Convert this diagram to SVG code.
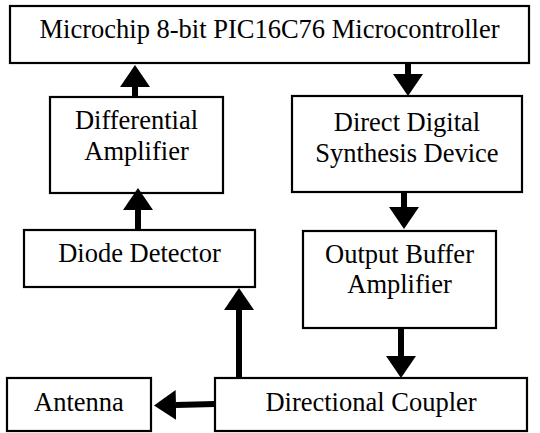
<svg xmlns="http://www.w3.org/2000/svg" width="540" height="433" viewBox="0 0 540 433">
<style>
.box{fill:#fff;stroke:#000;stroke-width:2.2}
.t{font-family:"Liberation Serif","Times New Roman",serif;font-size:26.5px;fill:#000;text-anchor:middle}
.c{stroke:#000;stroke-width:6;fill:none}
</style>
<defs>
<marker id="ah" viewBox="0 0 22 30" refX="0" refY="15" markerWidth="22" markerHeight="30" markerUnits="userSpaceOnUse" orient="auto">
<path d="M0,0 L22,15 L0,30 z" fill="#000"/>
</marker>
</defs>
<rect width="540" height="433" fill="#fff"/>
<g id="mcu"><rect class="box" x="10" y="6" width="519" height="57"/><text class="t" x="269.5" y="38">Microchip 8-bit PIC16C76 Microcontroller</text></g>
<g id="diffamp"><rect class="box" x="50" y="97" width="173" height="96"/><text class="t" x="136.5" y="129">Differential</text><text class="t" x="136.5" y="160">Amplifier</text></g>
<g id="dds"><rect class="box" x="292" y="96" width="230" height="96"/><text class="t" x="407" y="131">Direct Digital</text><text class="t" x="407" y="162">Synthesis Device</text></g>
<g id="diode"><rect class="box" x="24" y="230" width="231" height="57"/><text class="t" x="139.5" y="262">Diode Detector</text></g>
<g id="buffer"><rect class="box" x="303" y="231" width="193" height="97"/><text class="t" x="399.5" y="263">Output Buffer</text><text class="t" x="399.5" y="293">Amplifier</text></g>
<g id="antenna"><rect class="box" x="7" y="378" width="144" height="53"/><text class="t" x="79" y="411">Antenna</text></g>
<g id="coupler"><rect class="box" x="215" y="378" width="312" height="53"/><text class="t" x="371" y="411">Directional Coupler</text></g>
<g id="connectors">
<line class="c" x1="135" y1="97" x2="135" y2="87" marker-end="url(#ah)"/>
<line class="c" x1="408" y1="63" x2="408" y2="74" marker-end="url(#ah)"/>
<line class="c" x1="138" y1="230" x2="138" y2="210" marker-end="url(#ah)"/>
<line class="c" x1="404" y1="192" x2="404" y2="207" marker-end="url(#ah)"/>
<line class="c" x1="401" y1="328" x2="401" y2="356" marker-end="url(#ah)"/>
<line class="c" x1="239" y1="378" x2="239" y2="310" marker-end="url(#ah)"/>
<line class="c" x1="215" y1="404" x2="176" y2="405" marker-end="url(#ah)"/>
</g>
</svg>
